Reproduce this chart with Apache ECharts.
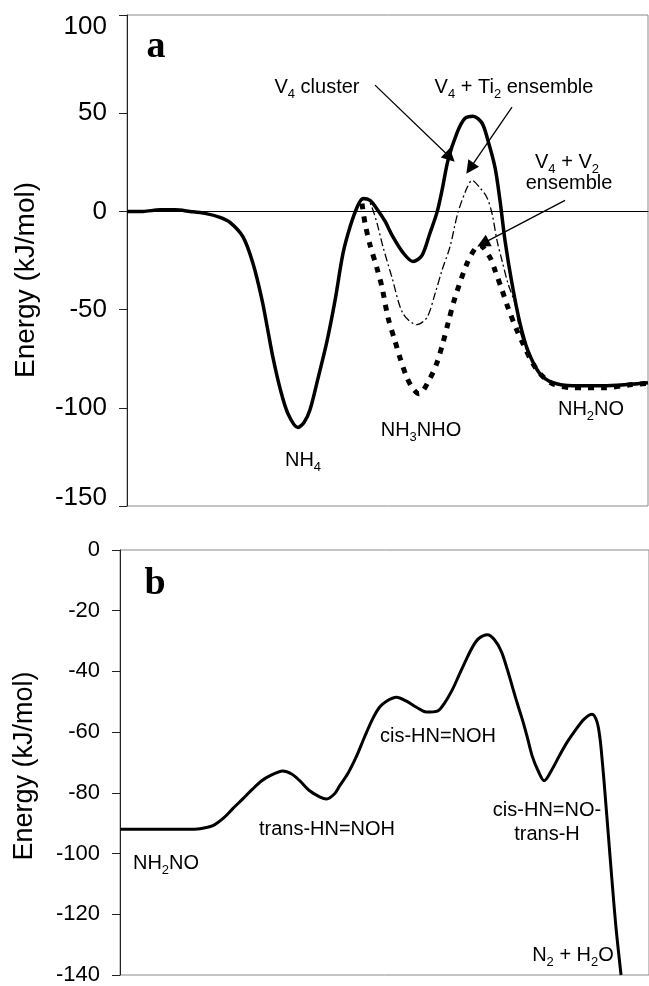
<!DOCTYPE html>
<html>
<head>
<meta charset="utf-8">
<script src="https://cdn.jsdelivr.net/npm/echarts@6/dist/echarts.min.js"></script>
<style>
html,body{margin:0;padding:0;background:#fff;}
#chart{width:649px;height:986px;}
</style>
</head>
<body>
<div id="chart"></div>
<script>
// ---- Panel a: reaction coordinate (arbitrary units), energy kJ/mol ----
const v4Cluster = [[0,0],[16,0],[33,0.8],[48,0.8],[63,0],[78,-1],[93,-3],[103,-5.6],[116,-13],[126,-26.5],
  [135,-45],[141,-61],[146,-74.5],[153,-90],[161,-103],[171,-110],[177,-107.5],[183,-101],[191,-85],[200,-66],[208,-45.4],
  [216,-21.4],[223,-8],[230,2],[236,6.6],[243,5.6],[251,0.5],[258,-5],[266,-13],[276,-21],[286,-25.5],[295,-22.4],
  [303,-11],[310,-0.5],[315,10.7],[321,26],[330,40],[338,47.4],[346,48.5],[355,45],[361,36],[368,22.4],[373,5.6],
  [378,-14.8],[385,-36.7],[393,-57],[401,-71],[413,-82.7],[426,-87.2],[446,-88.8],[476,-88.8],[503,-88],[521,-87.2]];
const v4Ti2 = [[235,5.6],[240,6.6],[245,2],[250,-6],[256,-18],[265,-33.7],[276,-52],[290,-57.7],[300,-54],
  [308,-42],[315,-30],[323,-18],[331,-0.5],[340,12],[345,15.8],[353,12],[360,7],[365,-1],[370,-14.8],[375,-25],
  [381,-36.7],[388,-47],[393,-60.7],[400,-71],[413,-82.7],[426,-87.5],[446,-89],[476,-89],[503,-88.5],[521,-87.5]];
const v4V2 = [[235,4],[238,-6],[243,-17],[250,-29],[255,-38.6],[261,-54],[268,-66],[273,-74.5],[280,-84.7],
  [286,-90.3],[292,-92.9],[303,-85],[310,-77],[316,-66.8],[321,-57],[328,-43.9],[340,-26.5],[348,-19],[353,-17.3],
  [363,-23.5],[368,-30],[375,-40],[381,-49],[390,-60.7],[396,-67.3],[406,-77.6],[415,-83.7],[426,-87.8],
  [446,-89.8],[476,-89.8],[503,-88.3],[521,-87.5]];
// annotation arrows for panel a (start -> end, data coordinates)
const arrowsA = [[[248,64.3],[323,27.6]],[[385,53.1],[343,21.9]],[[438,5.6],[356,-16.3]]];

// ---- Panel b ----
const pathB = [[0,-92],[30,-92],[67,-92],[80,-91.8],[93,-90.8],[103,-88.5],[113,-85.2],[123,-82],[133,-78.7],
  [142,-76],[150,-74.4],[163,-72.8],[172,-73.8],[180,-76],[190,-79.3],[200,-81.3],[207,-82],[215,-80.3],[220,-77.7],
  [228,-73.8],[237,-67.9],[245,-61.6],[253,-55.7],[260,-51.8],[267,-49.8],[277,-48.5],[287,-49.8],[297,-51.8],
  [307,-53.4],[318,-53.1],[325,-50.5],[333,-46],[340,-41],[347,-36],[354,-31.5],[360,-29],[368,-27.9],
  [375,-29.5],[382,-33.4],[388,-39.3],[393,-44.9],[398,-50.5],[403,-55.7],[408,-61.6],[413,-67.9],[419,-72.8],
  [425,-76],[432,-72.8],[440,-67.9],[448,-63.3],[457,-59],[465,-55.7],[473,-54.1],[478,-56.7],[481,-62.3],
  [483,-68.9],[485,-76.4],[489,-92.8],[493,-109.2],[497,-124.6],[502,-140]];

const FONT = '"Liberation Sans", Arial, Helvetica, sans-serif';
const chart = echarts.init(document.getElementById('chart'), null, {renderer:'canvas'});

const rich = {
  n: {fontSize: 20, fontFamily: FONT, color: '#000', lineHeight: 28},
  s: {fontSize: 13, fontFamily: FONT, color: '#000', lineHeight: 28, verticalAlign: 'bottom'}
};
function label(text, x, y) {
  return {type: 'text', x: x, y: y, silent: true,
    style: {text: text, rich: rich, align: 'center', verticalAlign: 'middle', fill: '#000'}};
}
function yTitle(x, y, size) {
  return {type: 'text', x: x, y: y, rotation: Math.PI / 2, silent: true,
    style: {text: 'Energy (kJ/mol)', font: size + 'px ' + FONT, fill: '#000', align: 'center', verticalAlign: 'middle'}};
}

const axisCommonY = {
  type: 'value',
  axisLine: {show: true, lineStyle: {color: '#222', width: 1}},
  axisTick: {show: true, length: 8, lineStyle: {color: '#222', width: 1}},
  splitLine: {show: false}
};

const option = {
  animation: false,
  backgroundColor: '#fff',
  grid: [
    {left: 127, top: 15, width: 521, height: 491, show: true, borderColor: '#8a8a8a', borderWidth: 1},
    {left: 120, top: 550, width: 530, height: 427, show: true, borderColor: '#8a8a8a', borderWidth: 1}
  ],
  xAxis: [
    {type: 'value', gridIndex: 0, min: 0, max: 521,
      axisLine: {show: true, onZero: true, lineStyle: {color: '#000', width: 1}},
      axisTick: {show: false}, axisLabel: {show: false}, splitLine: {show: false}},
    {type: 'value', gridIndex: 1, min: 0, max: 530,
      axisLine: {show: false}, axisTick: {show: false}, axisLabel: {show: false}, splitLine: {show: false}}
  ],
  yAxis: [
    Object.assign({}, axisCommonY, {gridIndex: 0, min: -150, max: 100, interval: 50,
      axisLabel: {color: '#000', margin: 20,
        formatter: v => v === 100 ? '{t|' + v + '}' : (v === -150 ? '{b|' + v + '}' : '{n|' + v + '}'),
        rich: {
          n: {fontSize: 26, fontFamily: FONT, color: '#000'},
          t: {fontSize: 26, fontFamily: FONT, color: '#000', padding: [24, 0, 0, 0]},
          b: {fontSize: 26, fontFamily: FONT, color: '#000', padding: [0, 0, 16, 0]}
        }}}),
    Object.assign({}, axisCommonY, {gridIndex: 1, min: -140, max: 0, interval: 20,
      axisLabel: {fontSize: 22, fontFamily: FONT, color: '#000', margin: 20}})
  ],
  series: [
    {type: 'line', xAxisIndex: 0, yAxisIndex: 0, data: v4V2, smooth: 0.3, symbol: 'none',
      lineStyle: {color: '#000', width: 5, type: [6, 7]}},
    {type: 'line', xAxisIndex: 0, yAxisIndex: 0, data: v4Ti2, smooth: 0.3, symbol: 'none',
      lineStyle: {color: '#000', width: 1.3, type: [8, 3, 2, 3]}},
    {type: 'line', xAxisIndex: 0, yAxisIndex: 0, data: v4Cluster, smooth: 0.3, symbol: 'none',
      lineStyle: {color: '#000', width: 3.5},
      markLine: {silent: true, symbol: ['none', 'triangle'], symbolSize: 13,
        lineStyle: {color: '#000', width: 1.3, type: 'solid'}, label: {show: false},
        itemStyle: {color: '#000'},
        data: arrowsA.map(a => [{coord: a[0]}, {coord: a[1]}])}},
    {type: 'line', xAxisIndex: 1, yAxisIndex: 1, data: pathB, smooth: 0.3, symbol: 'none',
      lineStyle: {color: '#000', width: 3}}
  ],
  graphic: [
    {type: 'text', x: 156, y: 47, silent: true,
      style: {text: 'a', font: 'bold 38px "Liberation Serif", "Times New Roman", serif', fill: '#000', align: 'center', verticalAlign: 'middle'}},
    {type: 'text', x: 155, y: 584, silent: true,
      style: {text: 'b', font: 'bold 38px "Liberation Serif", "Times New Roman", serif', fill: '#000', align: 'center', verticalAlign: 'middle'}},
    yTitle(26, 280, 28),
    yTitle(25, 766, 27),
    label('{n|V}{s|4}{n| cluster}', 317, 87),
    label('{n|V}{s|4}{n| + Ti}{s|2}{n| ensemble}', 514, 87),
    label('{n|V}{s|4}{n| + V}{s|2}', 567, 162),
    label('{n|ensemble}', 569, 183),
    label('{n|NH}{s|4}', 303, 460),
    label('{n|NH}{s|3}{n|NHO}', 421, 430),
    label('{n|NH}{s|2}{n|NO}', 591, 409),
    label('{n|NH}{s|2}{n|NO}', 166, 863),
    label('{n|trans-HN=NOH}', 327, 829),
    label('{n|cis-HN=NOH}', 438, 736),
    label('{n|cis-HN=NO-}', 547, 810),
    label('{n|trans-H}', 547, 834),
    label('{n|N}{s|2}{n| + H}{s|2}{n|O}', 573, 955)
  ]
};
chart.setOption(option);
</script>
</body>
</html>
